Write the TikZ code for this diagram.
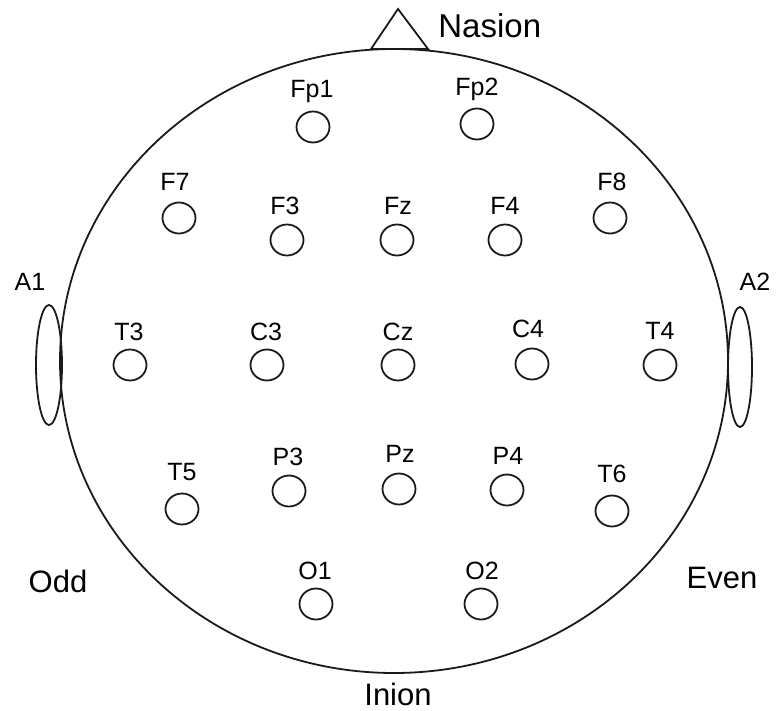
\documentclass[tikz,border=0pt]{standalone}
\usepackage{fontspec}
\setmainfont{Liberation Sans}
\usepackage{tikz}
\usetikzlibrary{shapes.geometric,positioning,calc}
\definecolor{cline}{HTML}{1A1A1A}
\tikzset{
  elec/.style={draw=cline, ellipse, line width=0.9pt, inner sep=0pt,
               minimum width=16.5pt, minimum height=15.5pt},
  lbl/.style={inner sep=0pt, text height=0.716em, text depth=0pt,
              font=\fontsize{12.5}{12.5}\selectfont},
  blbl/.style={lbl, font=\fontsize{15.5}{15.5}\selectfont},
  head/.style={draw=cline, line width=0.9pt},
}

\begin{document}
\begin{tikzpicture}[x=0.5pt, y=-0.5pt]
  \useasboundingbox (0,0) rectangle (776,711);
  % head, nose and ears
  \draw[head] (394,361) ellipse [x radius=167pt, y radius=156pt];
  \draw[head, line join=miter] (371,49) -- (398,9) -- (428,49) -- cycle;
  \draw[head] (49,365) ellipse [x radius=6.5pt, y radius=30pt];
  \draw[head] (740,367) ellipse [x radius=6pt, y radius=30pt];
  \node[blbl, anchor=west, font=\fontsize{16.5}{16.5}\selectfont] (nasion) at (438,30) {Nasion};
  \node[blbl] (inion) at (398,698) {Inion};
  \node[blbl] (odd) at (58,585) {Odd};
  \node[blbl] (even) at (722,581) {Even};
  \node[lbl] (a1) at (30,283) {A1};
  \node[lbl] (a2) at (755,283) {A2};
  % electrodes
  \node[elec] (Fp1) at (313,127) {}; \node[lbl] at (312,90) {Fp1};
  \node[elec] (Fp2) at (477,124) {}; \node[lbl] at (477,88) {Fp2};
  \node[elec] (F7) at (179,218) {};  \node[lbl] at (175,183) {F7};
  \node[elec] (F3) at (287,240) {};  \node[lbl] at (285,207) {F3};
  \node[elec] (Fz) at (397,240) {};  \node[lbl] at (398,207) {Fz};
  \node[elec] (F4) at (505,240) {};  \node[lbl] at (505,207) {F4};
  \node[elec] (F8) at (610,218) {};  \node[lbl] at (612,183) {F8};
  \node[elec] (T3) at (130,365) {};  \node[lbl] at (129,333) {T3};
  \node[elec] (C3) at (267,365) {};  \node[lbl] at (266,333) {C3};
  \node[elec] (Cz) at (398,365) {};  \node[lbl] at (398,333) {Cz};
  \node[elec] (C4) at (532,364) {};  \node[lbl] at (528,330) {C4};
  \node[elec] (T4) at (660,365) {};  \node[lbl] at (660,332) {T4};
  \node[elec] (T5) at (182,509) {};  \node[lbl] at (182,473) {T5};
  \node[elec] (P3) at (289,491) {};  \node[lbl] at (288,458) {P3};
  \node[elec] (Pz) at (399,489) {};  \node[lbl] at (400,455) {Pz};
  \node[elec] (P4) at (507,490) {};  \node[lbl] at (508,457) {P4};
  \node[elec] (T6) at (612,511) {};  \node[lbl] at (612,475) {T6};
  \node[elec] (O1) at (316,604) {};  \node[lbl] at (315,572) {O1};
  \node[elec] (O2) at (481,604) {};  \node[lbl] at (482,572) {O2};
\end{tikzpicture}
\end{document}
